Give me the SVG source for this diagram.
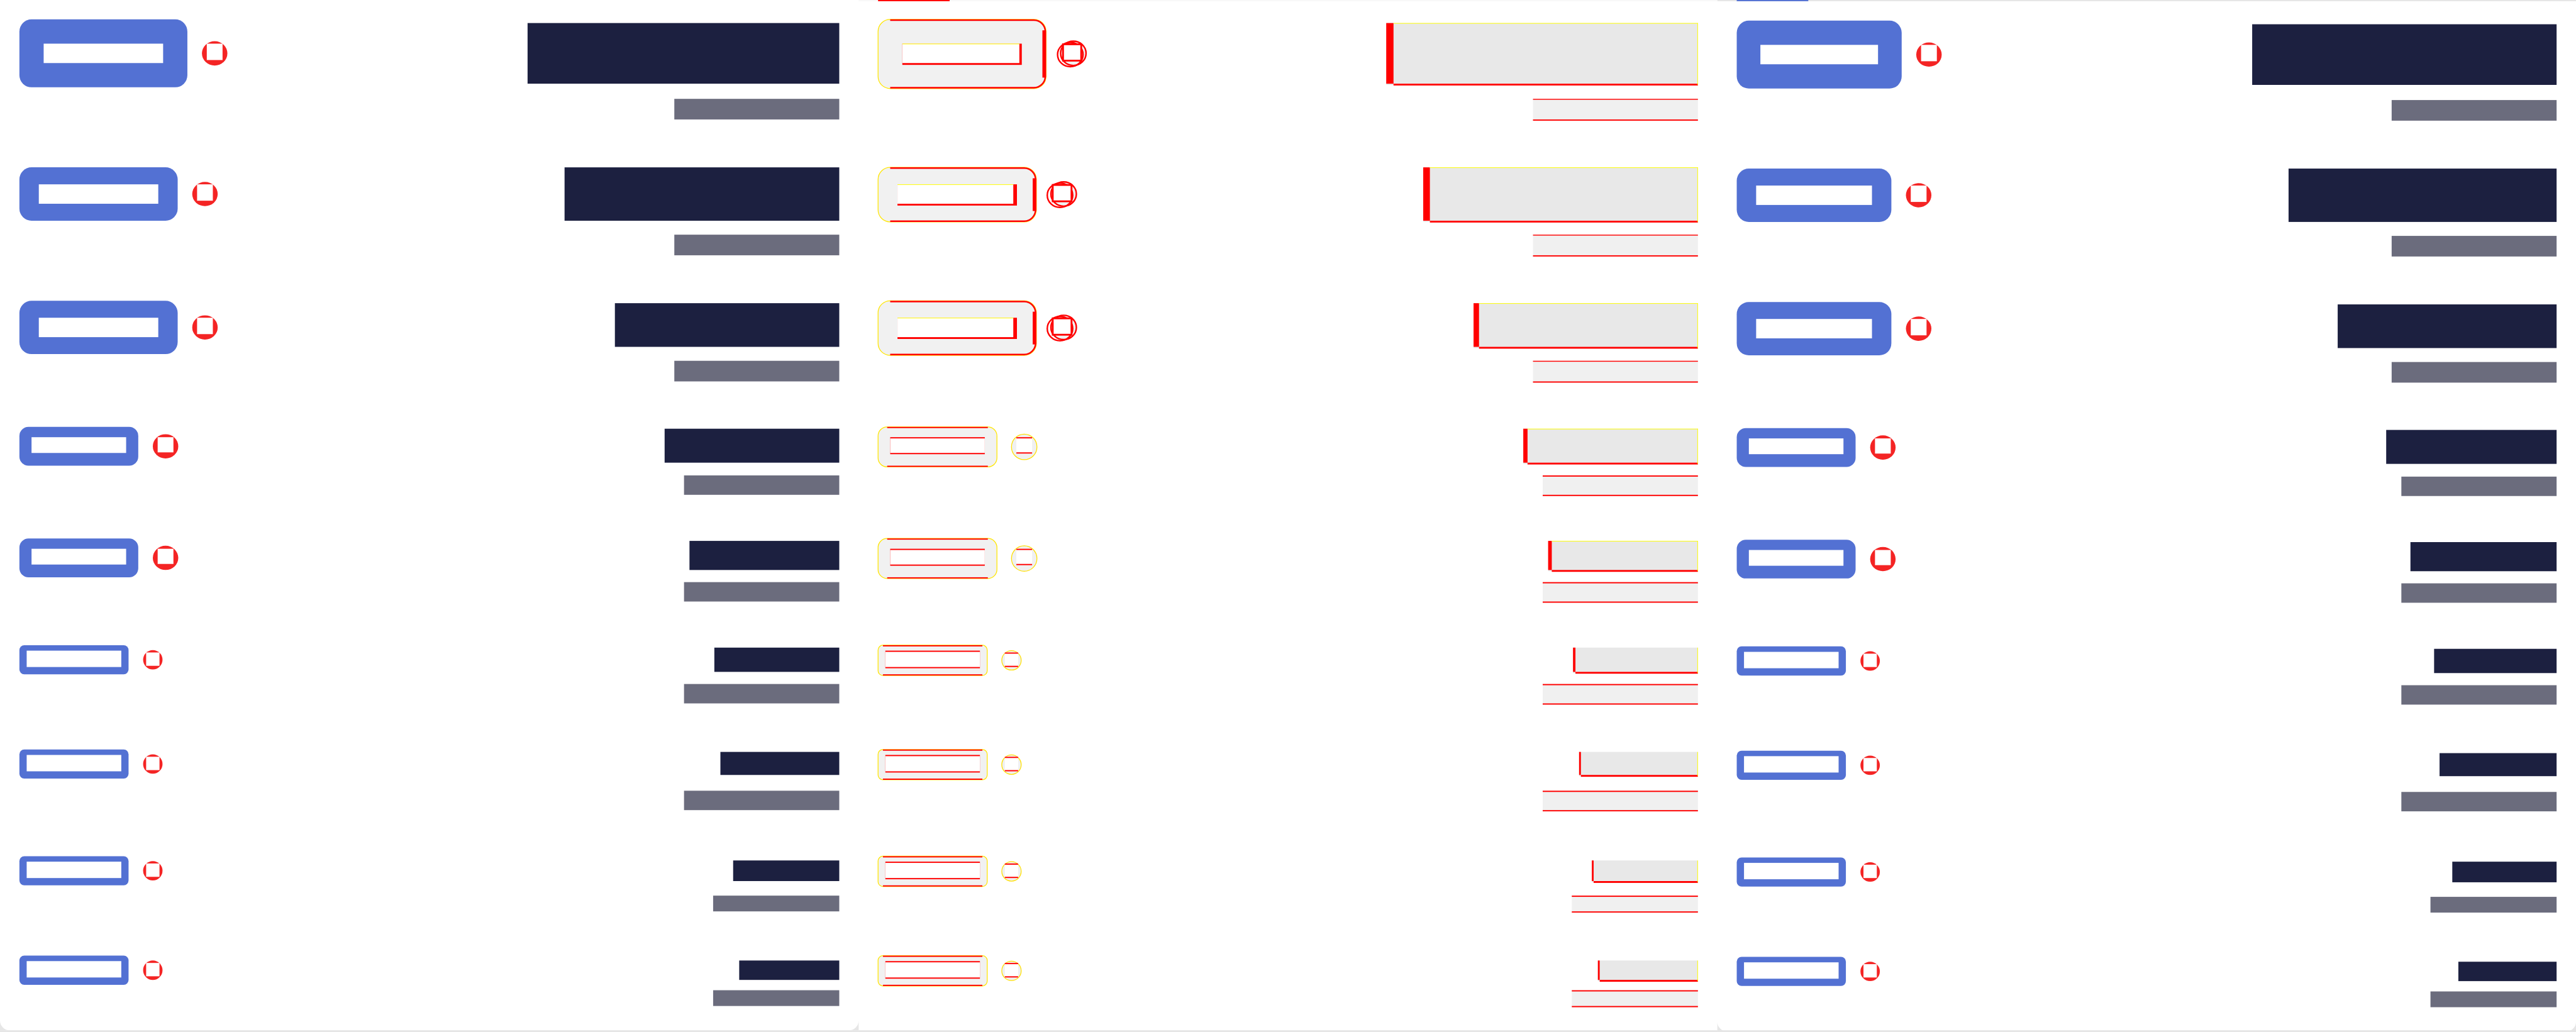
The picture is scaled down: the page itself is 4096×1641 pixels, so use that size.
<svg xmlns="http://www.w3.org/2000/svg" width="4096" height="1641" viewBox="0 0 4096 1641">
<style>
.bl{fill:#5371d3}.wh{fill:#ffffff}.rd{fill:#f42424}.nv{fill:#1c2040}.gy{fill:#6b6c7d}
.dr{fill:#ff0000}.dy{fill:#ffff00}.dn{fill:#e8e8e8}.dg{fill:#f0f0f0}
.db{fill:#f1f1f1;stroke:#ffe600;stroke-width:1.3}
.edge{fill:#e6e6e6}
.dline{fill:none;stroke:#ff0000;stroke-width:2.5}
.dro{fill:#f0f0f0;stroke:#ff0000;stroke-width:2.5}
.droN{fill:none;stroke:#ff0000;stroke-width:2.5}
.dsq{fill:#ffffff;stroke:#ff0000;stroke-width:3}
.dcy{fill:#f0f0f0;stroke:#ffe000;stroke-width:1.3}
</style>
<rect width="4096" height="1641" fill="#ffffff"/>
<g transform="scale(0.964218)">
<g id="frame">
<rect x="0" y="1699" width="4248" height="3" class="edge"/>
<path d="M0,1683 A16 16 0 0 0 16 1699 L0 1699 Z" class="edge"/>
<path d="M1416,1683 A16 16 0 0 1 1400 1699 L1416 1699 Z" class="edge"/>
<rect x="1416" y="0" width="1416" height="2" fill="#f8f8f8"/>
<rect x="2832" y="0" width="1416" height="2" class="edge"/>
<rect x="1448" y="0" width="118" height="2" class="dr"/>
<rect x="2864" y="0" width="118" height="2" class="bl"/>
<path d="M2832,1685 A16 16 0 0 0 2848 1701 L2832 1701 Z" class="edge"/>
<path d="M4248,1685 A16 16 0 0 1 4232 1701 L4248 1701 Z" class="edge"/>
</g>

<g id="left-panel">
<g id="l-r1-button"><rect x="32" y="32" width="277" height="112" rx="20" class="bl"/><rect x="72" y="72" width="197" height="32" class="wh"/></g>
<g id="l-r1-badge"><ellipse cx="354" cy="88" rx="21" ry="20" class="rd"/><rect x="341" y="72" width="26" height="27" class="wh"/></g>
<g id="l-r1-title"><rect x="870" y="38" width="514" height="100" class="nv"/></g>
<g id="l-r1-sub"><rect x="1112" y="163" width="272" height="34" class="gy"/></g>

<g id="l-r2-button"><rect x="32" y="276" width="261" height="88" rx="20" class="bl"/><rect x="64" y="304" width="197" height="32" class="wh"/></g>
<g id="l-r2-badge"><ellipse cx="338" cy="320" rx="21" ry="20" class="rd"/><rect x="325" y="304" width="26" height="27" class="wh"/></g>
<g id="l-r2-title"><rect x="931" y="276" width="453" height="88" class="nv"/></g>
<g id="l-r2-sub"><rect x="1112" y="387" width="272" height="34" class="gy"/></g>

<g id="l-r3-button"><rect x="32" y="496" width="261" height="88" rx="20" class="bl"/><rect x="64" y="524" width="197" height="32" class="wh"/></g>
<g id="l-r3-badge"><ellipse cx="338" cy="540" rx="21" ry="20" class="rd"/><rect x="325" y="524" width="26" height="27" class="wh"/></g>
<g id="l-r3-title"><rect x="1014" y="500" width="370" height="72" class="nv"/></g>
<g id="l-r3-sub"><rect x="1112" y="595" width="272" height="34" class="gy"/></g>

<g id="l-r4-button"><rect x="32" y="704" width="196" height="64" rx="15" class="bl"/><rect x="52" y="721" width="156" height="26" class="wh"/></g>
<g id="l-r4-badge"><ellipse cx="273" cy="736" rx="21" ry="20" class="rd"/><rect x="260" y="721" width="26" height="25" class="wh"/></g>
<g id="l-r4-title"><rect x="1096" y="707" width="288" height="56" class="nv"/></g>
<g id="l-r4-sub"><rect x="1128" y="784" width="256" height="32" class="gy"/></g>

<g id="l-r5-button"><rect x="32" y="888" width="196" height="64" rx="15" class="bl"/><rect x="52" y="905" width="156" height="26" class="wh"/></g>
<g id="l-r5-badge"><ellipse cx="273" cy="920" rx="21" ry="20" class="rd"/><rect x="260" y="905" width="26" height="25" class="wh"/></g>
<g id="l-r5-title"><rect x="1137" y="892" width="247" height="48" class="nv"/></g>
<g id="l-r5-sub"><rect x="1128" y="960" width="256" height="32" class="gy"/></g>

<g id="l-r6-button"><rect x="32" y="1064" width="180" height="48" rx="8" class="bl"/><rect x="44" y="1073" width="156" height="27" class="wh"/></g>
<g id="l-r6-badge"><circle cx="252" cy="1088" r="16" class="rd"/><rect x="241" y="1076" width="22" height="22" class="wh"/></g>
<g id="l-r6-title"><rect x="1178" y="1068" width="206" height="40" class="nv"/></g>
<g id="l-r6-sub"><rect x="1128" y="1128" width="256" height="32" class="gy"/></g>

<g id="l-r7-button"><rect x="32" y="1236" width="180" height="48" rx="8" class="bl"/><rect x="44" y="1245" width="156" height="27" class="wh"/></g>
<g id="l-r7-badge"><circle cx="252" cy="1260" r="16" class="rd"/><rect x="241" y="1248" width="22" height="22" class="wh"/></g>
<g id="l-r7-title"><rect x="1188" y="1240" width="196" height="38" class="nv"/></g>
<g id="l-r7-sub"><rect x="1128" y="1304" width="256" height="32" class="gy"/></g>

<g id="l-r8-button"><rect x="32" y="1412" width="180" height="48" rx="8" class="bl"/><rect x="44" y="1421" width="156" height="27" class="wh"/></g>
<g id="l-r8-badge"><circle cx="252" cy="1436" r="16" class="rd"/><rect x="241" y="1424" width="22" height="22" class="wh"/></g>
<g id="l-r8-title"><rect x="1209" y="1419" width="175" height="34" class="nv"/></g>
<g id="l-r8-sub"><rect x="1176" y="1477" width="208" height="26" class="gy"/></g>

<g id="l-r9-button"><rect x="32" y="1576" width="180" height="48" rx="8" class="bl"/><rect x="44" y="1585" width="156" height="27" class="wh"/></g>
<g id="l-r9-badge"><circle cx="252" cy="1600" r="16" class="rd"/><rect x="241" y="1588" width="22" height="22" class="wh"/></g>
<g id="l-r9-title"><rect x="1219" y="1584" width="165" height="32" class="nv"/></g>
<g id="l-r9-sub"><rect x="1176" y="1633" width="208" height="26" class="gy"/></g>
</g>

<g id="diff-panel" transform="translate(1416 0)">
<g id="d-r1-button"><rect x="32" y="32" width="277" height="114" rx="20" class="db"/><path d="M52,33.25 H289 A19 19 0 0 1 307.75 52 V126 A19 19 0 0 1 289 144.75 H52" class="dline"/><rect x="303" y="50" width="6" height="78" class="dr"/><rect x="72" y="72" width="197" height="35" class="dr"/><rect x="72" y="72" width="193" height="32" class="wh"/><rect x="72" y="72" width="193" height="1" class="dy"/></g>
<g id="d-r1-badge"><ellipse cx="354" cy="88" rx="21" ry="20" class="dro"/><ellipse cx="349" cy="90" rx="21" ry="20" class="droN"/><rect x="337" y="73" width="30" height="27" class="dsq"/></g>
<g id="d-r1-title"><rect x="870" y="38" width="514" height="102" class="dn"/><rect x="870" y="38" width="12" height="100" class="dr"/><rect x="882" y="138" width="502" height="3" class="dr"/><rect x="882" y="38" width="502" height="1" class="dy"/><rect x="1383" y="38" width="1" height="102" class="dy"/></g>
<g id="d-r1-sub"><rect x="1112" y="163" width="272" height="36" class="dg"/><rect x="1112" y="163" width="272" height="1.5" class="dr"/><rect x="1112" y="197" width="272" height="2" class="dr"/></g>

<g id="d-r2-button"><rect x="32" y="276" width="261" height="90" rx="20" class="db"/><path d="M52,277.25 H273 A19 19 0 0 1 291.75 296 V346 A19 19 0 0 1 273 364.75 H52" class="dline"/><rect x="287" y="294" width="6" height="54" class="dr"/><rect x="64" y="304" width="197" height="35" class="dr"/><rect x="64" y="304" width="191" height="32" class="wh"/><rect x="64" y="304" width="191" height="1" class="dy"/></g>
<g id="d-r2-badge"><ellipse cx="338" cy="320" rx="21" ry="20" class="dro"/><ellipse cx="332" cy="322" rx="21" ry="20" class="droN"/><rect x="320" y="305" width="31" height="27" class="dsq"/></g>
<g id="d-r2-title"><rect x="931" y="276" width="453" height="90" class="dn"/><rect x="931" y="276" width="11" height="88" class="dr"/><rect x="942" y="364" width="442" height="3" class="dr"/><rect x="942" y="276" width="442" height="1" class="dy"/><rect x="1383" y="276" width="1" height="90" class="dy"/></g>
<g id="d-r2-sub"><rect x="1112" y="387" width="272" height="36" class="dg"/><rect x="1112" y="387" width="272" height="1.5" class="dr"/><rect x="1112" y="421" width="272" height="2" class="dr"/></g>

<g id="d-r3-button"><rect x="32" y="496" width="261" height="90" rx="20" class="db"/><path d="M52,497.25 H273 A19 19 0 0 1 291.75 516 V566 A19 19 0 0 1 273 584.75 H52" class="dline"/><rect x="287" y="514" width="6" height="54" class="dr"/><rect x="64" y="524" width="197" height="35" class="dr"/><rect x="64" y="524" width="191" height="32" class="wh"/><rect x="64" y="524" width="191" height="1" class="dy"/></g>
<g id="d-r3-badge"><ellipse cx="338" cy="540" rx="21" ry="20" class="dro"/><ellipse cx="332" cy="542" rx="21" ry="20" class="droN"/><rect x="320" y="525" width="31" height="27" class="dsq"/></g>
<g id="d-r3-title"><rect x="1014" y="500" width="370" height="74" class="dn"/><rect x="1014" y="500" width="9" height="72" class="dr"/><rect x="1023" y="572" width="361" height="3" class="dr"/><rect x="1023" y="500" width="361" height="1" class="dy"/><rect x="1383" y="500" width="1" height="74" class="dy"/></g>
<g id="d-r3-sub"><rect x="1112" y="595" width="272" height="36" class="dg"/><rect x="1112" y="595" width="272" height="1.5" class="dr"/><rect x="1112" y="629" width="272" height="2" class="dr"/></g>

<g id="d-r4-button"><rect x="32" y="704" width="196" height="66" rx="15" class="db"/><rect x="47" y="704" width="166" height="2" class="dr"/><rect x="47" y="768" width="166" height="2" class="dr"/><rect x="52" y="721" width="156" height="28" class="dr"/><rect x="52" y="723" width="156" height="24" class="wh"/></g>
<g id="d-r4-badge"><circle cx="273" cy="737" r="21" class="dcy"/><rect x="260" y="721" width="26" height="27" class="wh"/><rect x="260" y="721" width="26" height="2" class="dr"/><rect x="260" y="746" width="26" height="2" class="dr"/></g>
<g id="d-r4-title"><rect x="1096" y="707" width="288" height="58" class="dn"/><rect x="1096" y="707" width="7" height="56" class="dr"/><rect x="1103" y="763" width="281" height="3" class="dr"/><rect x="1103" y="707" width="281" height="1" class="dy"/><rect x="1383" y="707" width="1" height="58" class="dy"/></g>
<g id="d-r4-sub"><rect x="1128" y="784" width="256" height="34" class="dg"/><rect x="1128" y="784" width="256" height="2" class="dr"/><rect x="1128" y="816" width="256" height="2" class="dr"/></g>

<g id="d-r5-button"><rect x="32" y="888" width="196" height="66" rx="15" class="db"/><rect x="47" y="888" width="166" height="2" class="dr"/><rect x="47" y="952" width="166" height="2" class="dr"/><rect x="52" y="905" width="156" height="28" class="dr"/><rect x="52" y="907" width="156" height="24" class="wh"/></g>
<g id="d-r5-badge"><circle cx="273" cy="921" r="21" class="dcy"/><rect x="260" y="905" width="26" height="27" class="wh"/><rect x="260" y="905" width="26" height="2" class="dr"/><rect x="260" y="930" width="26" height="2" class="dr"/></g>
<g id="d-r5-title"><rect x="1137" y="892" width="247" height="50" class="dn"/><rect x="1137" y="892" width="6" height="48" class="dr"/><rect x="1143" y="940" width="241" height="3" class="dr"/><rect x="1143" y="892" width="241" height="1" class="dy"/><rect x="1383" y="892" width="1" height="50" class="dy"/></g>
<g id="d-r5-sub"><rect x="1128" y="960" width="256" height="34" class="dg"/><rect x="1128" y="960" width="256" height="2" class="dr"/><rect x="1128" y="992" width="256" height="2" class="dr"/></g>

<g id="d-r6-button"><rect x="32" y="1064" width="180" height="50" rx="8" class="db"/><rect x="40" y="1064" width="164" height="2" class="dr"/><rect x="40" y="1112" width="164" height="2" class="dr"/><rect x="44" y="1073" width="156" height="29" class="dr"/><rect x="44" y="1075" width="156" height="25" class="wh"/></g>
<g id="d-r6-badge"><circle cx="252" cy="1089" r="16" class="dcy"/><rect x="241" y="1076" width="22" height="24" class="wh"/><rect x="241" y="1076" width="22" height="2" class="dr"/><rect x="241" y="1098" width="22" height="2" class="dr"/></g>
<g id="d-r6-title"><rect x="1178" y="1068" width="206" height="42" class="dn"/><rect x="1178" y="1068" width="4" height="40" class="dr"/><rect x="1182" y="1108" width="202" height="3" class="dr"/><rect x="1383" y="1068" width="1" height="42" class="dy"/></g>
<g id="d-r6-sub"><rect x="1128" y="1128" width="256" height="34" class="dg"/><rect x="1128" y="1128" width="256" height="2" class="dr"/><rect x="1128" y="1160" width="256" height="2" class="dr"/></g>

<g id="d-r7-button"><rect x="32" y="1236" width="180" height="50" rx="8" class="db"/><rect x="40" y="1236" width="164" height="2" class="dr"/><rect x="40" y="1284" width="164" height="2" class="dr"/><rect x="44" y="1245" width="156" height="29" class="dr"/><rect x="44" y="1247" width="156" height="25" class="wh"/></g>
<g id="d-r7-badge"><circle cx="252" cy="1261" r="16" class="dcy"/><rect x="241" y="1248" width="22" height="24" class="wh"/><rect x="241" y="1248" width="22" height="2" class="dr"/><rect x="241" y="1270" width="22" height="2" class="dr"/></g>
<g id="d-r7-title"><rect x="1188" y="1240" width="196" height="40" class="dn"/><rect x="1188" y="1240" width="3" height="38" class="dr"/><rect x="1191" y="1278" width="193" height="3" class="dr"/><rect x="1383" y="1240" width="1" height="40" class="dy"/></g>
<g id="d-r7-sub"><rect x="1128" y="1304" width="256" height="34" class="dg"/><rect x="1128" y="1304" width="256" height="2" class="dr"/><rect x="1128" y="1336" width="256" height="2" class="dr"/></g>

<g id="d-r8-button"><rect x="32" y="1412" width="180" height="50" rx="8" class="db"/><rect x="40" y="1412" width="164" height="2" class="dr"/><rect x="40" y="1460" width="164" height="2" class="dr"/><rect x="44" y="1421" width="156" height="29" class="dr"/><rect x="44" y="1423" width="156" height="25" class="wh"/></g>
<g id="d-r8-badge"><circle cx="252" cy="1437" r="16" class="dcy"/><rect x="241" y="1424" width="22" height="24" class="wh"/><rect x="241" y="1424" width="22" height="2" class="dr"/><rect x="241" y="1446" width="22" height="2" class="dr"/></g>
<g id="d-r8-title"><rect x="1209" y="1419" width="175" height="36" class="dn"/><rect x="1209" y="1419" width="3" height="34" class="dr"/><rect x="1212" y="1453" width="172" height="3" class="dr"/><rect x="1383" y="1419" width="1" height="36" class="dy"/></g>
<g id="d-r8-sub"><rect x="1176" y="1477" width="208" height="28" class="dg"/><rect x="1176" y="1477" width="208" height="2" class="dr"/><rect x="1176" y="1503" width="208" height="2" class="dr"/></g>

<g id="d-r9-button"><rect x="32" y="1576" width="180" height="50" rx="8" class="db"/><rect x="40" y="1576" width="164" height="2" class="dr"/><rect x="40" y="1624" width="164" height="2" class="dr"/><rect x="44" y="1585" width="156" height="29" class="dr"/><rect x="44" y="1587" width="156" height="25" class="wh"/></g>
<g id="d-r9-badge"><circle cx="252" cy="1601" r="16" class="dcy"/><rect x="241" y="1588" width="22" height="24" class="wh"/><rect x="241" y="1588" width="22" height="2" class="dr"/><rect x="241" y="1610" width="22" height="2" class="dr"/></g>
<g id="d-r9-title"><rect x="1219" y="1584" width="165" height="34" class="dn"/><rect x="1219" y="1584" width="3" height="32" class="dr"/><rect x="1222" y="1616" width="162" height="3" class="dr"/><rect x="1383" y="1584" width="1" height="34" class="dy"/></g>
<g id="d-r9-sub"><rect x="1176" y="1633" width="208" height="28" class="dg"/><rect x="1176" y="1633" width="208" height="2" class="dr"/><rect x="1176" y="1659" width="208" height="2" class="dr"/></g>
</g>

<g id="right-panel" transform="translate(2832 2)">
<g id="r-r1-button"><rect x="32" y="32" width="272" height="112" rx="20" class="bl"/><rect x="71" y="72" width="194" height="32" class="wh"/></g>
<g id="r-r1-badge"><ellipse cx="349" cy="88" rx="21" ry="20" class="rd"/><rect x="336" y="72" width="26" height="27" class="wh"/></g>
<g id="r-r1-title"><rect x="882" y="38" width="502" height="100" class="nv"/></g>
<g id="r-r1-sub"><rect x="1112" y="163" width="272" height="34" class="gy"/></g>

<g id="r-r2-button"><rect x="32" y="276" width="255" height="88" rx="20" class="bl"/><rect x="64" y="304" width="191" height="32" class="wh"/></g>
<g id="r-r2-badge"><ellipse cx="332" cy="320" rx="21" ry="20" class="rd"/><rect x="319" y="304" width="26" height="27" class="wh"/></g>
<g id="r-r2-title"><rect x="942" y="276" width="442" height="88" class="nv"/></g>
<g id="r-r2-sub"><rect x="1112" y="387" width="272" height="34" class="gy"/></g>

<g id="r-r3-button"><rect x="32" y="496" width="255" height="88" rx="20" class="bl"/><rect x="64" y="524" width="191" height="32" class="wh"/></g>
<g id="r-r3-badge"><ellipse cx="332" cy="540" rx="21" ry="20" class="rd"/><rect x="319" y="524" width="26" height="27" class="wh"/></g>
<g id="r-r3-title"><rect x="1023" y="500" width="361" height="72" class="nv"/></g>
<g id="r-r3-sub"><rect x="1112" y="595" width="272" height="34" class="gy"/></g>

<g id="r-r4-button"><rect x="32" y="704" width="196" height="64" rx="15" class="bl"/><rect x="52" y="721" width="156" height="26" class="wh"/></g>
<g id="r-r4-badge"><ellipse cx="273" cy="736" rx="21" ry="20" class="rd"/><rect x="260" y="721" width="26" height="25" class="wh"/></g>
<g id="r-r4-title"><rect x="1103" y="707" width="281" height="56" class="nv"/></g>
<g id="r-r4-sub"><rect x="1128" y="784" width="256" height="32" class="gy"/></g>

<g id="r-r5-button"><rect x="32" y="888" width="196" height="64" rx="15" class="bl"/><rect x="52" y="905" width="156" height="26" class="wh"/></g>
<g id="r-r5-badge"><ellipse cx="273" cy="920" rx="21" ry="20" class="rd"/><rect x="260" y="905" width="26" height="25" class="wh"/></g>
<g id="r-r5-title"><rect x="1143" y="892" width="241" height="48" class="nv"/></g>
<g id="r-r5-sub"><rect x="1128" y="960" width="256" height="32" class="gy"/></g>

<g id="r-r6-button"><rect x="32" y="1064" width="180" height="48" rx="8" class="bl"/><rect x="44" y="1073" width="156" height="27" class="wh"/></g>
<g id="r-r6-badge"><circle cx="252" cy="1088" r="16" class="rd"/><rect x="241" y="1076" width="22" height="22" class="wh"/></g>
<g id="r-r6-title"><rect x="1182" y="1068" width="202" height="40" class="nv"/></g>
<g id="r-r6-sub"><rect x="1128" y="1128" width="256" height="32" class="gy"/></g>

<g id="r-r7-button"><rect x="32" y="1236" width="180" height="48" rx="8" class="bl"/><rect x="44" y="1245" width="156" height="27" class="wh"/></g>
<g id="r-r7-badge"><circle cx="252" cy="1260" r="16" class="rd"/><rect x="241" y="1248" width="22" height="22" class="wh"/></g>
<g id="r-r7-title"><rect x="1191" y="1240" width="193" height="38" class="nv"/></g>
<g id="r-r7-sub"><rect x="1128" y="1304" width="256" height="32" class="gy"/></g>

<g id="r-r8-button"><rect x="32" y="1412" width="180" height="48" rx="8" class="bl"/><rect x="44" y="1421" width="156" height="27" class="wh"/></g>
<g id="r-r8-badge"><circle cx="252" cy="1436" r="16" class="rd"/><rect x="241" y="1424" width="22" height="22" class="wh"/></g>
<g id="r-r8-title"><rect x="1212" y="1419" width="172" height="34" class="nv"/></g>
<g id="r-r8-sub"><rect x="1176" y="1477" width="208" height="26" class="gy"/></g>

<g id="r-r9-button"><rect x="32" y="1576" width="180" height="48" rx="8" class="bl"/><rect x="44" y="1585" width="156" height="27" class="wh"/></g>
<g id="r-r9-badge"><circle cx="252" cy="1600" r="16" class="rd"/><rect x="241" y="1588" width="22" height="22" class="wh"/></g>
<g id="r-r9-title"><rect x="1222" y="1584" width="162" height="32" class="nv"/></g>
<g id="r-r9-sub"><rect x="1176" y="1633" width="208" height="26" class="gy"/></g>
</g>
<g id="connectors"/>
</g>
</svg>
